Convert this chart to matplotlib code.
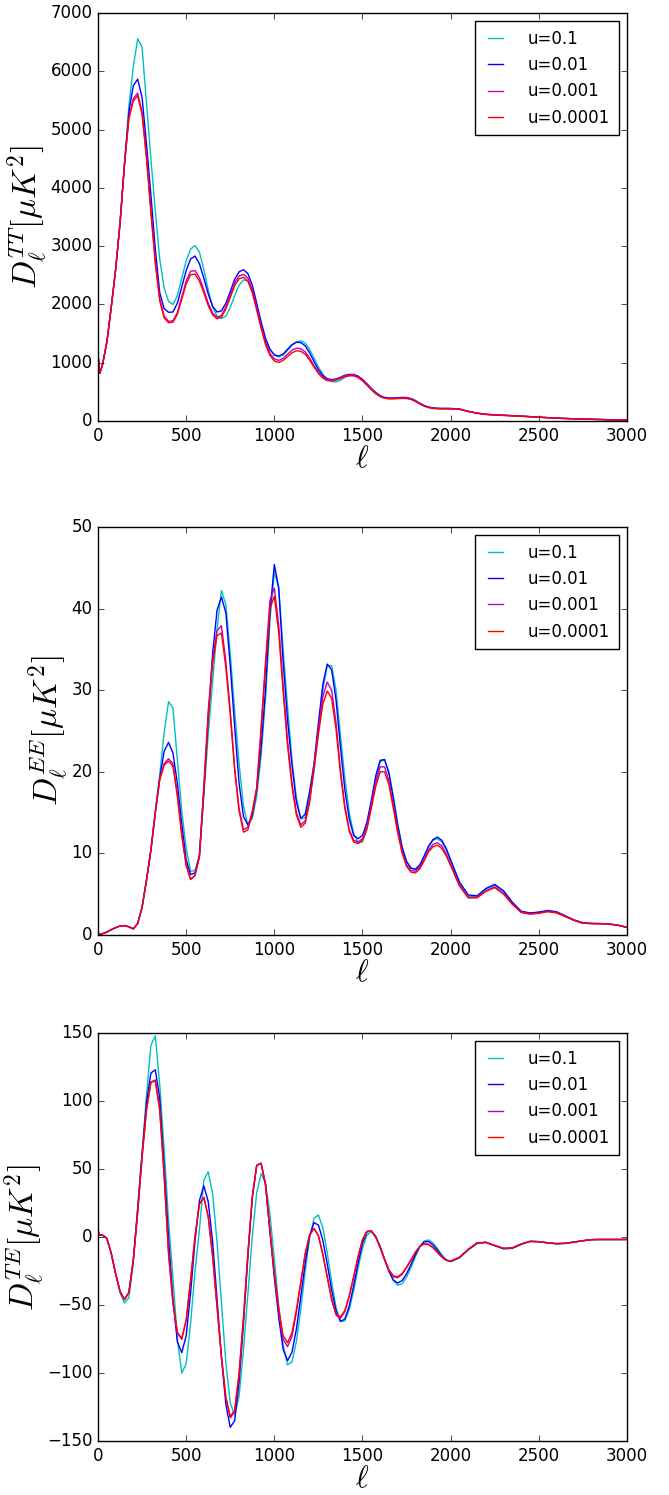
import matplotlib
matplotlib.use('Agg')
import matplotlib.pyplot as plt

plt.style.use('classic')

# multipole grid the curves were read on
ell = [2, 10] + list(range(25, 2001, 25)) + list(range(2050, 3001, 50))
labels = ['u=0.1', 'u=0.01', 'u=0.001', 'u=0.0001']
colors = ['c', 'b', 'm', 'r']

# ---- TT ----
tt_u1 = [1075, 820, 960, 1350, 1950, 2600, 3400, 4400, 5400, 6080,
         6557, 6410, 5450, 4500, 3600, 2780, 2280, 2050, 2000, 2150,
         2450, 2750, 2950, 3010, 2900, 2600, 2250, 1950, 1800, 1760,
         1800, 1950, 2150, 2330, 2420, 2400, 2250, 1950, 1650, 1400,
         1230, 1130, 1100, 1130, 1210, 1300, 1360, 1375, 1340, 1230,
         1080, 930, 800, 710, 675, 670, 700, 750, 785, 790,
         760, 700, 620, 540, 470, 420, 395, 385, 385, 390,
         395, 395, 380, 345, 300, 260, 235, 222, 216, 214,
         214, 214, 205, 165, 135, 115, 105, 98, 92, 84,
         75, 65, 58, 50, 44, 38, 34, 30, 26, 22,
         19, 16]
tt_u2 = [1075, 820, 960, 1350, 1950, 2600, 3400, 4400, 5300, 5750,
         5865, 5550, 4750, 3880, 2950, 2200, 1930, 1865, 1870, 2020,
         2300, 2580, 2780, 2830, 2700, 2450, 2180, 1970, 1870, 1890,
         2020, 2220, 2430, 2560, 2595, 2530, 2330, 2020, 1700, 1420,
         1230, 1135, 1115, 1150, 1230, 1310, 1350, 1345, 1290, 1170,
         1020, 880, 780, 725, 710, 720, 750, 785, 800, 798,
         770, 715, 640, 560, 490, 435, 405, 395, 395, 400,
         405, 402, 385, 350, 305, 265, 240, 225, 218, 216,
         216, 215, 206, 166, 136, 116, 106, 99, 92, 84,
         75, 66, 58, 50, 44, 38, 34, 30, 26, 22,
         19, 16]
tt_u3 = [1075, 820, 960, 1350, 1950, 2600, 3400, 4400, 5200, 5530,
         5625, 5300, 4550, 3620, 2750, 2100, 1800, 1710, 1720, 1860,
         2130, 2400, 2570, 2580, 2460, 2250, 2020, 1850, 1780, 1810,
         1960, 2160, 2370, 2490, 2515, 2450, 2250, 1950, 1630, 1350,
         1160, 1065, 1040, 1075, 1145, 1215, 1250, 1240, 1185, 1080,
         950, 835, 750, 705, 700, 715, 745, 775, 790, 788,
         760, 705, 630, 550, 480, 428, 398, 388, 388, 392,
         396, 394, 378, 342, 298, 258, 234, 220, 214, 212,
         212, 211, 203, 164, 134, 114, 104, 97, 90, 83,
         74, 65, 57, 49, 43, 37, 33, 29, 25, 21,
         18, 15]
tt_u4 = [1075, 820, 960, 1350, 1950, 2600, 3400, 4400, 5180, 5490,
         5580, 5260, 4500, 3580, 2700, 2060, 1770, 1685, 1695, 1830,
         2090, 2350, 2510, 2520, 2400, 2200, 1980, 1820, 1755, 1780,
         1920, 2120, 2320, 2440, 2465, 2400, 2200, 1900, 1590, 1310,
         1125, 1030, 1005, 1040, 1105, 1170, 1205, 1195, 1145, 1045,
         925, 815, 735, 693, 690, 702, 730, 760, 775, 773,
         745, 690, 615, 538, 470, 420, 390, 380, 380, 384,
         388, 386, 370, 336, 292, 254, 230, 216, 210, 208,
         208, 207, 200, 162, 132, 112, 102, 95, 88, 81,
         72, 63, 56, 48, 42, 36, 32, 28, 24, 20,
         17, 14]

# ---- EE ----
ee_u1 = [0.05, 0.08, 0.15, 0.35, 0.65, 0.9, 1.1, 1.15, 1.0, 0.75,
         1.4, 3.4, 6.8, 10.5, 15.2, 19.6, 24.8, 28.6, 27.8, 21.5,
         15.2, 10.6, 7.8, 7.9, 9.6, 17.0, 24.5, 31.0, 37.5, 42.2,
         40.5, 34.5, 27.5, 21.0, 15.8, 13.4, 14.3, 17.0, 22.0, 29.0,
         38.5, 44.5, 42.5, 35.0, 28.0, 21.5, 16.8, 14.2, 14.4, 16.8,
         20.0, 25.2, 30.0, 33.0, 33.0, 30.0, 24.5, 19.2, 15.0, 12.4,
         11.3, 11.4, 13.0, 15.8, 18.9, 21.2, 21.5, 20.0, 17.0, 13.6,
         10.8, 9.0, 8.2, 8.0, 8.5, 9.6, 10.8, 11.6, 11.8, 11.4,
         10.4, 9.0, 6.3, 4.7, 4.7, 5.6, 6.1, 5.4, 4.0, 2.9,
         2.65, 2.8, 2.95, 2.8, 2.3, 1.8, 1.45, 1.4, 1.4, 1.35,
         1.2, 0.95]
ee_u2 = [0.05, 0.08, 0.15, 0.35, 0.65, 0.9, 1.1, 1.15, 1.0, 0.75,
         1.4, 3.4, 6.7, 10.4, 15.0, 19.2, 22.5, 23.6, 22.3, 18.6,
         13.6, 9.2, 7.4, 7.6, 9.8, 17.5, 26.5, 34.5, 39.8, 41.4,
         39.5, 33.0, 25.5, 18.6, 14.5, 13.5, 14.6, 17.8, 23.0, 30.0,
         39.5, 45.4, 42.5, 33.5, 26.3, 20.8, 16.3, 14.3, 14.8, 17.6,
         21.0, 26.0, 30.7, 33.2, 32.5, 28.8, 23.0, 17.8, 14.2, 12.2,
         11.8, 12.2, 13.8, 16.5, 19.5, 21.4, 21.5, 19.8, 16.7, 13.4,
         10.7, 9.0, 8.2, 8.05, 8.6, 9.7, 10.9, 11.7, 12.0, 11.6,
         10.6, 9.2, 6.5, 4.9, 4.8, 5.7, 6.2, 5.4, 4.0, 2.9,
         2.7, 2.8, 3.0, 2.85, 2.35, 1.85, 1.5, 1.42, 1.4, 1.35,
         1.2, 0.95]
ee_u3 = [0.05, 0.08, 0.15, 0.35, 0.65, 0.9, 1.1, 1.15, 1.0, 0.75,
         1.4, 3.4, 6.7, 10.4, 15.0, 19.2, 21.0, 21.6, 21.0, 17.3,
         12.4, 8.6, 6.8, 7.3, 9.6, 18.2, 27.5, 33.8, 37.3, 37.9,
         33.5, 27.5, 20.5, 15.5, 12.9, 13.2, 15.2, 18.0, 25.5, 33.5,
         41.0, 42.5, 38.0, 30.5, 23.8, 18.6, 15.0, 13.5, 14.0, 16.5,
         20.8, 25.3, 29.2, 31.0, 30.0, 26.0, 20.2, 15.8, 12.9, 11.6,
         11.4, 11.8, 13.3, 15.9, 18.7, 20.6, 20.6, 18.9, 15.9, 12.8,
         10.2, 8.6, 7.9, 7.8, 8.3, 9.3, 10.4, 11.1, 11.3, 10.9,
         9.9, 8.6, 6.1, 4.6, 4.6, 5.4, 5.9, 5.1, 3.8, 2.8,
         2.6, 2.7, 2.9, 2.75, 2.3, 1.8, 1.45, 1.4, 1.38, 1.33,
         1.18, 0.94]
ee_u4 = [0.05, 0.08, 0.15, 0.35, 0.65, 0.9, 1.1, 1.15, 1.0, 0.75,
         1.4, 3.4, 6.7, 10.4, 15.0, 19.0, 20.8, 21.3, 20.7, 17.0,
         12.2, 8.5, 6.8, 7.3, 9.6, 17.8, 26.6, 33.2, 36.7, 37.0,
         32.8, 27.0, 20.2, 15.2, 12.6, 12.9, 14.9, 18.0, 24.8, 32.8,
         40.0, 41.5, 37.0, 29.8, 23.2, 18.2, 14.7, 13.2, 13.7, 16.2,
         20.4, 24.6, 28.3, 29.9, 29.0, 25.2, 19.8, 15.5, 12.7, 11.4,
         11.2, 11.6, 13.0, 15.5, 18.2, 20.0, 20.0, 18.4, 15.5, 12.5,
         10.0, 8.4, 7.7, 7.6, 8.1, 9.1, 10.2, 10.8, 11.0, 10.6,
         9.7, 8.5, 6.0, 4.55, 4.55, 5.35, 5.8, 5.0, 3.75, 2.75,
         2.55, 2.65, 2.85, 2.7, 2.25, 1.78, 1.44, 1.39, 1.37, 1.32,
         1.17, 0.93]

# ---- TE ----
te_u1 = [4, 1.5, 1.5, -1, -12, -27, -41, -48.5, -44.6, -19.3,
         22.4, 62, 104, 141, 148, 112, 65, 12, -30, -75,
         -100, -93.2, -63.6, -25.2, 5, 41.7, 48, 32, -3.6, -48.4,
         -92.4, -122, -131, -117.3, -83, -42, 0.6, 32.6, 46.6, 39.9,
         17, -16.3, -51, -79.4, -94, -91.9, -76.8, -53.1, -25.2, -1.1,
         13.8, 16.2, 6.8, -11.5, -33.1, -51.8, -62, -61.6, -53.2, -39.3,
         -22.9, -8.2, 1.3, 3.8, 0.5, -6.8, -15.9, -24.9, -32.2, -35.4,
         -34.3, -29.5, -22.4, -14.4, -7.4, -3, -2.1, -4.3, -8.4, -13.1,
         -16.8, -18.3, -15.5, -9.5, -4.8, -3.8, -6.2, -8.7, -8.4, -5.6,
         -3.2, -3.4, -4.4, -5.1, -4.8, -3.8, -2.7, -1.9, -1.8, -1.8,
         -1.8, -1.8]
te_u2 = [4, 1.5, 1.5, -1, -12, -27, -40, -46, -40.7, -16.6,
         20.2, 61.5, 99.1, 120.6, 123, 102, 52, -1, -46, -77,
         -85, -72.6, -41.3, -3.2, 26.7, 37.7, 26.1, -3.4, -45.4, -88.3,
         -123.1, -139.9, -135.1, -106.9, -64.1, -14.9, 28.5, 52.7, 54.2, 38.2,
         4, -30, -59.2, -82.6, -90.8, -84.7, -67.8, -43.9, -19.4, 1,
         10.6, 8.8, -2.4, -19.8, -38.9, -54.4, -62.1, -60.3, -50.7, -35.8,
         -19.1, -4.7, 3.7, 4.6, 0.4, -7.2, -16.5, -25.3, -31.6, -33.8,
         -32, -27, -20.2, -12.9, -6.9, -3.4, -3.3, -5.8, -9.7, -14,
         -16.9, -17.8, -15, -9.2, -4.5, -4, -6.4, -8.6, -8.1, -5.2,
         -3.2, -3.4, -4.3, -4.9, -4.6, -3.7, -2.7, -1.9, -1.8, -1.8,
         -1.8, -1.8]
te_u3 = [4, 1.5, 1.5, -1, -12, -27, -40, -46, -40.8, -17.5,
         18.4, 58.8, 93.5, 114, 115.5, 94, 45.5, -12, -48.5, -70.5,
         -75.2, -61.3, -32, 0.3, 24.2, 29.2, 15, -14.2, -51.3, -88.2,
         -118.3, -133, -128.3, -101, -59.6, -12, 29.5, 52.8, 54.3, 38.8,
         4.5, -27, -54.5, -75.2, -80.6, -73, -55.5, -34, -12.8, 1.6,
         6.3, 1.0, -12.9, -29.6, -46.2, -57.4, -59.8, -54.8, -43.7, -29.5,
         -14.5, -2.1, 4.1, 4.4, 0, -7.8, -16.6, -24.7, -29.2, -29.9,
         -27.4, -22.6, -17, -11.2, -6.9, -4.7, -5.3, -7.7, -11.2, -14.7,
         -17.1, -17.8, -14.9, -9, -4.3, -3.9, -6.2, -8.3, -7.9, -5.1,
         -3.2, -3.4, -4.2, -4.8, -4.6, -3.7, -2.7, -1.9, -1.8, -1.8,
         -1.8, -1.8]
te_u4 = [4, 1.5, 1.5, -1, -12, -27, -40, -46, -40.8, -17.5,
         18.4, 58.8, 93.5, 113.8, 114.7, 93.4, 45, -12, -48, -70,
         -74.7, -61, -32, 0.3, 24.2, 29, 15, -14, -50.9, -87.5,
         -117.5, -132, -127.3, -100.3, -59.3, -12, 29.5, 52.8, 54.1, 38.6,
         5, -26, -52.5, -72.6, -77.7, -70.4, -53.6, -32.8, -12.2, 1.7,
         6.3, 1.1, -12.6, -29, -45.3, -56.4, -58.8, -53.9, -43, -29,
         -14.2, -2, 4.2, 4.4, 0, -7.6, -16.2, -24.1, -28.6, -29.2,
         -26.8, -22.1, -16.7, -11.1, -7, -5, -5.6, -7.9, -11.3, -14.7,
         -17.1, -17.8, -14.9, -9, -4.3, -3.9, -6.2, -8.3, -7.9, -5.1,
         -3.2, -3.4, -4.2, -4.8, -4.6, -3.7, -2.7, -1.9, -1.8, -1.8,
         -1.8, -1.8]

panels = [
    ([tt_u1, tt_u2, tt_u3, tt_u4], (0, 7000), r'$D_\ell^{TT}[\mu K^2]$'),
    ([ee_u1, ee_u2, ee_u3, ee_u4], (0, 50), r'$D_\ell^{EE}[\mu K^2]$'),
    ([te_u1, te_u2, te_u3, te_u4], (-150, 150), r'$D_\ell^{TE}[\mu K^2]$'),
]

fig = plt.figure(figsize=(6.69, 14.95), dpi=100, facecolor='white')
bottoms = [0.7184, 0.3746, 0.0361]

for (series, ylim, ylab), b in zip(panels, bottoms):
    ax = fig.add_axes([0.1465, b, 0.7907, 0.2729])
    for y, c, lab in zip(series, colors, labels):
        ax.plot(ell, y, color=c, lw=1.0, label=lab)
    ax.set_xlim(0, 3000)
    ax.set_ylim(*ylim)
    ax.set_xlabel(r'$\ell$', fontsize=22, labelpad=0)
    ax.set_ylabel(ylab, fontsize=24, labelpad=0)
    ax.tick_params(labelsize=12, pad=4)
    ax.legend(loc='upper right', fontsize=12, handlelength=1.5,
              handletextpad=1.2, borderpad=0.5)

fig.savefig('out.png', dpi=100, facecolor='white')
